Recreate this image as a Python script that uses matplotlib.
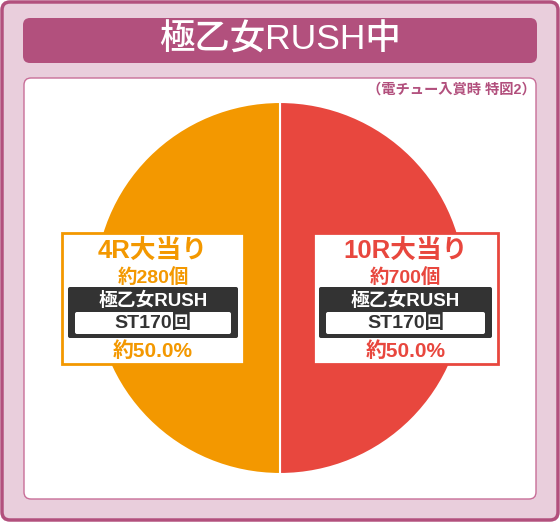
import matplotlib
matplotlib.use("Agg")
import matplotlib.pyplot as plt
from matplotlib.patches import FancyBboxPatch, Rectangle

plt.rcParams['font.family'] = ['Liberation Sans', 'Noto Sans CJK JP', 'DejaVu Sans']

# data
title = "極乙女RUSH中"
note = "（電チュー入賞時 特図2）"
rounds = ["10R大当り", "4R大当り"]
payouts = ["約700個", "約280個"]
rush_name = "極乙女RUSH"
st_label = "ST170回"
shares = [50.0, 50.0]
colors = ["#E8473E", "#F39800"]

W, H = 560, 523
fig = plt.figure(figsize=(W / 100, H / 100), dpi=100)
ax = fig.add_axes([0, 0, 1, 1])
ax.set_xlim(0, W)
ax.set_ylim(H, 0)
ax.axis("off")

pink = "#B2507D"
ax.add_patch(FancyBboxPatch((2, 2), W - 4, H - 5, boxstyle="round,pad=0,rounding_size=8",
                            fc="#E9CEDC", ec=pink, lw=2.5))
ax.add_patch(FancyBboxPatch((23, 18), 514, 45, boxstyle="round,pad=0,rounding_size=7",
                            fc=pink, ec="none"))
ax.text(280, 40, title, color="white", fontsize=25.5, fontweight="medium",
        ha="center", va="center")
ax.add_patch(FancyBboxPatch((24, 78), 512, 421, boxstyle="round,pad=0,rounding_size=7",
                            fc="white", ec="#C86E98", lw=1))
ax.text(536, 90, note, color=pink, fontsize=10.3, fontweight="bold",
        ha="right", va="center")

# pie
cx, cy, r = 280, 288, 186
pax = fig.add_axes([(cx - r) / W, (H - cy - r) / H, 2 * r / W, 2 * r / H])
pax.pie(shares, colors=colors, startangle=90, counterclock=False,
        wedgeprops=dict(edgecolor="white", linewidth=1.5))
pax.set_xlim(-1, 1)
pax.set_ylim(-1, 1)
pax.set_zorder(1)

# label boxes drawn on top axes
tax = fig.add_axes([0, 0, 1, 1])
tax.set_xlim(0, W)
tax.set_ylim(H, 0)
tax.axis("off")
tax.set_zorder(2)

boxes = [(313, 498), (62, 244)]
for i in range(len(rounds)):
    x0, x1 = boxes[i]
    mid = (x0 + x1) / 2
    c = colors[i]
    tax.add_patch(Rectangle((x0, 233), x1 - x0, 131, fc="white", ec=c, lw=2))
    tax.text(mid, 252, rounds[i], color=c, fontsize=18.5, fontweight="bold",
             ha="center", va="center")
    tax.text(mid, 277, payouts[i], color=c, fontsize=14, fontweight="bold",
             ha="center", va="center")
    tax.add_patch(FancyBboxPatch((x0 + 6, 287), x1 - x0 - 12, 51,
                                 boxstyle="round,pad=0,rounding_size=2",
                                 fc="#333333", ec="none"))
    tax.text(mid, 301, rush_name, color="white", fontsize=13.5, fontweight="bold",
             ha="center", va="center")
    tax.add_patch(FancyBboxPatch((x0 + 13, 312), x1 - x0 - 26, 22,
                                 boxstyle="round,pad=0,rounding_size=2",
                                 fc="white", ec="none"))
    tax.text(mid, 323, st_label, color="#333333", fontsize=14, fontweight="bold",
             ha="center", va="center")
    tax.text(mid, 351, "約%.1f%%" % shares[i], color=c, fontsize=15, fontweight="bold",
             ha="center", va="center")

fig.savefig("out.png", dpi=100)
